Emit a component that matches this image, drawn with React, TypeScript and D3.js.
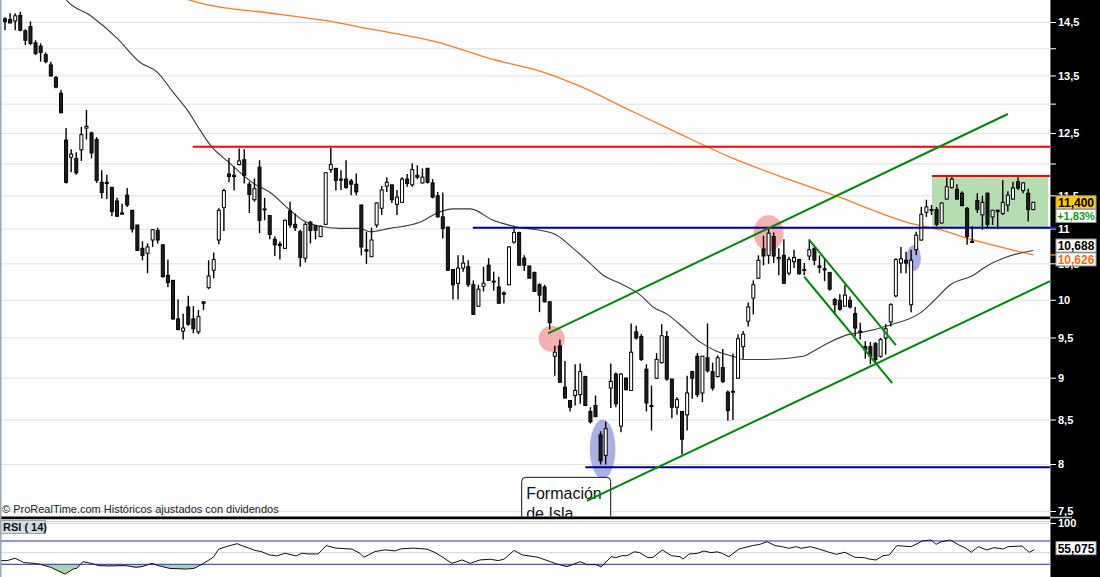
import React from 'react';
import * as d3 from 'd3';

// Daily sessions: [open, high, low, close]
const ohlc: [number, number, number, number][] = [
  [14.57, 14.60, 14.35, 14.52], [14.56, 14.68, 14.49, 14.49], [14.53, 14.68, 14.35, 14.63], [14.64, 14.71, 14.33, 14.35],
  [14.34, 14.37, 14.07, 14.16], [14.42, 14.52, 14.07, 14.10], [14.11, 14.16, 13.88, 13.91], [14.05, 14.10, 13.76, 13.93],
  [13.89, 13.93, 13.73, 13.76], [13.70, 13.76, 13.49, 13.50], [13.47, 13.50, 13.28, 13.30], [13.19, 13.25, 12.85, 12.85],
  [12.39, 12.59, 11.69, 11.71], [12.11, 12.24, 11.87, 12.16], [12.09, 12.19, 11.83, 11.86], [12.23, 12.61, 12.05, 12.48],
  [12.59, 12.90, 12.40, 12.62], [12.51, 12.53, 12.09, 12.18], [12.40, 12.44, 11.70, 11.74], [11.71, 11.90, 11.46, 11.55],
  [11.71, 11.83, 11.45, 11.69], [11.63, 11.64, 11.19, 11.26], [11.42, 11.47, 11.18, 11.19], [11.24, 11.38, 11.22, 11.22],
  [11.51, 11.62, 11.33, 11.36], [11.28, 11.28, 10.95, 11.00], [11.06, 11.06, 10.68, 10.69], [10.72, 10.82, 10.55, 10.62],
  [10.65, 10.79, 10.37, 10.74], [10.84, 11.00, 10.74, 10.99], [10.98, 11.02, 10.79, 10.84], [10.77, 10.78, 10.31, 10.32],
  [10.34, 10.56, 10.18, 10.24], [10.27, 10.27, 9.74, 9.75], [9.75, 10.01, 9.60, 9.61], [9.59, 9.82, 9.48, 9.63],
  [9.91, 10.06, 9.66, 9.68], [9.75, 9.92, 9.56, 9.62], [9.58, 9.87, 9.55, 9.78], [9.98, 9.98, 9.87, 9.96],
  [10.17, 10.55, 10.15, 10.33], [10.41, 10.66, 10.30, 10.56], [10.84, 11.31, 10.78, 11.28], [11.32, 11.61, 10.97, 11.58],
  [11.84, 12.10, 11.71, 11.80], [11.82, 11.96, 11.58, 11.80], [11.99, 12.25, 11.98, 12.05], [12.07, 12.24, 11.69, 11.82],
  [11.68, 11.72, 11.24, 11.52], [11.44, 11.77, 11.41, 11.61], [11.95, 12.06, 10.94, 11.13], [11.30, 11.47, 11.13, 11.29],
  [11.20, 11.21, 10.85, 10.92], [10.85, 10.89, 10.61, 10.77], [10.78, 10.82, 10.56, 10.76], [10.72, 11.14, 10.71, 11.13],
  [11.27, 11.41, 11.02, 11.06], [11.07, 11.23, 10.97, 11.02], [10.96, 10.99, 10.46, 10.59], [10.58, 11.10, 10.52, 11.07],
  [11.10, 11.12, 10.79, 10.98], [11.05, 11.06, 10.85, 10.98], [10.89, 11.05, 10.88, 11.04], [11.07, 11.87, 11.06, 11.86],
  [11.91, 12.26, 11.86, 11.99], [11.93, 11.93, 11.58, 11.74], [11.76, 11.90, 11.59, 11.75], [11.76, 12.06, 11.61, 11.63],
  [11.73, 11.76, 11.51, 11.68], [11.68, 11.85, 11.51, 11.56], [11.36, 11.36, 10.62, 10.74], [10.70, 10.96, 10.50, 10.68],
  [10.60, 11.02, 10.60, 10.84], [11.06, 11.40, 11.02, 11.39], [11.31, 11.65, 11.21, 11.59], [11.65, 11.79, 11.56, 11.71],
  [11.67, 11.67, 11.39, 11.44], [11.37, 11.59, 11.21, 11.48], [11.40, 11.79, 11.39, 11.76], [11.76, 11.84, 11.64, 11.69],
  [11.67, 12.01, 11.64, 11.91], [11.82, 11.98, 11.76, 11.79], [11.70, 11.93, 11.69, 11.79], [11.93, 11.94, 11.69, 11.71],
  [11.70, 11.76, 11.46, 11.48], [11.50, 11.56, 11.17, 11.18], [11.18, 11.55, 10.86, 11.01], [11.03, 11.03, 10.40, 10.41],
  [10.42, 10.42, 10.01, 10.21], [10.23, 10.62, 10.01, 10.44], [10.44, 10.62, 10.39, 10.51], [10.46, 10.55, 10.18, 10.21],
  [10.21, 10.27, 9.81, 9.81], [9.92, 10.21, 9.91, 10.15], [10.19, 10.46, 10.12, 10.23], [10.48, 10.58, 10.27, 10.27],
  [10.26, 10.39, 10.13, 10.25], [10.18, 10.32, 9.96, 9.96], [10.10, 10.12, 9.96, 10.08], [10.21, 10.75, 10.21, 10.74],
  [10.81, 11.00, 10.79, 10.95], [10.95, 10.96, 10.48, 10.48], [10.58, 10.62, 10.40, 10.48], [10.47, 10.47, 10.30, 10.30],
  [10.38, 10.39, 10.12, 10.12], [10.21, 10.23, 9.84, 10.07], [10.18, 10.21, 9.97, 9.98], [9.98, 9.98, 9.61, 9.70],
  [9.27, 9.40, 9.03, 9.32], [9.40, 9.48, 8.95, 8.95], [8.89, 9.21, 8.75, 8.76], [8.73, 8.73, 8.60, 8.65],
  [8.79, 9.17, 8.67, 8.85], [8.80, 9.18, 8.69, 9.08], [9.02, 9.03, 8.67, 8.67], [8.60, 8.65, 8.46, 8.48],
  [8.67, 8.79, 8.53, 8.54], [8.33, 8.37, 8.00, 8.04], [8.10, 8.48, 8.00, 8.40], [8.88, 9.18, 8.64, 8.96],
  [9.05, 9.07, 8.65, 8.69], [8.43, 9.06, 8.36, 9.05], [9.00, 9.01, 8.85, 8.86], [8.85, 9.69, 8.85, 9.32],
  [9.58, 9.66, 9.48, 9.50], [9.52, 9.55, 9.21, 9.23], [9.11, 9.17, 8.60, 8.70], [8.67, 8.91, 8.38, 8.66],
  [9.00, 9.31, 8.99, 9.23], [9.19, 9.68, 9.18, 9.53], [9.52, 9.59, 8.97, 8.99], [8.99, 8.99, 8.52, 8.65],
  [8.65, 8.77, 8.56, 8.74], [8.60, 8.60, 8.11, 8.28], [8.56, 9.03, 8.38, 8.82], [9.08, 9.09, 8.75, 9.00],
  [9.27, 9.31, 8.77, 8.80], [8.82, 9.27, 8.71, 9.27], [9.25, 9.69, 9.07, 9.09], [9.08, 9.19, 8.85, 8.88],
  [9.02, 9.28, 9.01, 9.25], [9.13, 9.36, 8.94, 8.96], [8.83, 8.85, 8.49, 8.61], [8.84, 9.30, 8.50, 8.83],
  [9.00, 9.55, 8.99, 9.49], [9.39, 9.59, 9.24, 9.55], [9.72, 9.97, 9.65, 9.91], [10.03, 10.27, 9.81, 10.21],
  [10.30, 10.62, 10.29, 10.55], [10.71, 10.90, 10.48, 10.61], [10.62, 11.00, 10.50, 10.94], [10.89, 10.95, 10.51, 10.61],
  [10.57, 10.72, 10.34, 10.59], [10.62, 10.85, 10.23, 10.23], [10.37, 10.60, 10.34, 10.56], [10.53, 10.70, 10.44, 10.59],
  [10.56, 10.57, 10.35, 10.36], [10.42, 10.51, 10.34, 10.42], [10.61, 10.84, 10.55, 10.70], [10.72, 10.74, 10.48, 10.55],
  [10.47, 10.62, 10.37, 10.45], [10.43, 10.58, 10.26, 10.42], [10.38, 10.38, 10.13, 10.15], [10.01, 10.03, 9.81, 9.94],
  [10.00, 10.08, 9.86, 9.88], [9.92, 10.21, 9.92, 10.07], [10.00, 10.05, 9.89, 9.91], [9.82, 9.91, 9.52, 9.63],
  [9.59, 9.70, 9.48, 9.59], [9.39, 9.46, 9.24, 9.35], [9.39, 9.45, 9.17, 9.27], [9.43, 9.45, 9.17, 9.23],
  [9.27, 9.50, 9.25, 9.48], [9.50, 9.68, 9.29, 9.62], [9.71, 9.96, 9.65, 9.94], [10.06, 10.58, 10.04, 10.56],
  [10.51, 10.74, 10.37, 10.57], [10.55, 10.67, 10.37, 10.51], [9.94, 10.70, 9.84, 10.55], [10.70, 10.96, 10.62, 10.91],
  [10.84, 11.33, 10.83, 11.22], [11.25, 11.44, 11.18, 11.33], [11.28, 11.36, 11.21, 11.29], [11.29, 11.33, 11.04, 11.07],
  [11.09, 11.40, 11.08, 11.39], [11.45, 11.79, 11.44, 11.64], [11.63, 11.79, 11.61, 11.76], [11.60, 11.68, 11.44, 11.45],
  [11.54, 11.57, 11.34, 11.35], [11.31, 11.33, 10.77, 10.89], [10.82, 11.04, 10.80, 10.81], [11.43, 11.54, 11.24, 11.29],
  [11.21, 11.50, 10.99, 11.40], [11.54, 11.55, 11.03, 11.07], [11.18, 11.28, 11.06, 11.28], [11.28, 11.29, 11.00, 11.26],
  [11.23, 11.74, 11.21, 11.40], [11.36, 11.57, 11.26, 11.51], [11.45, 11.72, 11.44, 11.62], [11.72, 11.79, 11.59, 11.62],
  [11.58, 11.71, 11.54, 11.70], [11.54, 11.61, 11.11, 11.29], [11.29, 11.41, 11.28, 11.40],
];

// Moving averages as [session index, price]
const maFast: [number, number][] = [
  [11, 15.1], [12, 14.95], [16.7, 14.64], [22, 14.2], [26.5, 13.75], [29.9, 13.57], [33, 13.21], [35.8, 12.9],
  [38.3, 12.56], [40.3, 12.31], [44.2, 12.01], [48.7, 11.7], [52.1, 11.55], [56, 11.28], [58.5, 11.13],
  [61.9, 11.04], [65.8, 11.01], [69.7, 11.01], [71.7, 10.96], [75.6, 11.01], [79.6, 11.06], [81.5, 11.1],
  [84.9, 11.24], [88, 11.3], [91.4, 11.3], [95.9, 11.13], [100.6, 11.03], [104.5, 10.99], [108.4, 10.91],
  [111.6, 10.72], [114.9, 10.51], [117.5, 10.34], [120.8, 10.23], [124.8, 10.07], [127.3, 9.91], [130.1, 9.81],
  [133.2, 9.64], [136.5, 9.45], [139.9, 9.33], [143, 9.27], [145, 9.23], [149.7, 9.23], [156.8, 9.27],
  [158.7, 9.33], [162.1, 9.45], [166, 9.55], [168, 9.57], [173.9, 9.67], [179.8, 9.83], [182.3, 9.98],
  [185.7, 10.21], [190.2, 10.34], [192.9, 10.47], [196.9, 10.6], [202, 10.688],
];
const maSlow: [number, number][] = [
  [35, 15.0], [36.3, 14.94], [54, 14.66], [62.1, 14.55], [71.9, 14.37], [84.7, 14.13], [95.9, 13.8],
  [105.7, 13.57], [112.8, 13.32], [122.6, 12.9], [131.6, 12.53], [142.2, 12.12], [153.4, 11.77],
  [164.6, 11.46], [170.5, 11.28], [177.2, 11.1], [183.7, 10.99], [190.2, 10.84], [198.8, 10.68], [202, 10.626],
];

// RSI(14) as [session index, value]
const rsiPoints: [number, number][] = [
  [-1, 36.4], [0.4, 36.4], [2, 40.4], [3.7, 32.9], [5.7, 31.7], [6.9, 30], [9, 24.8], [11.8, 13.2], [13.4, 21.9],
  [14.1, 23], [15.3, 34.6], [16.9, 31.7], [18.5, 27.7], [20.4, 27.1], [22.4, 27.7], [23.8, 27.7], [25.7, 24.8],
  [26.9, 26], [28.9, 31.7], [30.1, 27.7], [32.4, 23], [35.6, 21.9], [37.1, 23], [38.7, 30], [40.9, 42], [42, 56],
  [43.6, 60.7], [45.6, 65.4], [46.4, 62.5], [47.9, 57.8], [49.1, 53.8], [50.3, 52], [51.9, 46.2], [53.4, 44.4],
  [55, 49], [57.2, 44.4], [58.3, 49], [59.5, 47.8], [61.5, 47.8], [63.1, 61.9], [65, 57.8], [68.2, 56], [69.7, 49],
  [70.5, 42], [72.7, 51.9], [74.7, 54.8], [76.6, 53], [77.8, 56.6], [80.2, 57.8], [82.9, 56], [84.5, 50.2], [86, 42],
  [87.8, 31.7], [89.8, 37.5], [91.4, 31.7], [93.3, 37.5], [95.3, 38.7], [96.9, 36.4], [98, 38.7], [100, 53.8],
  [101.6, 46.2], [104.7, 42], [107.1, 34.6], [108.4, 30.6], [110.4, 26], [113, 34.6], [114.3, 29.4], [116.1, 29.4],
  [117.1, 25.4], [119.1, 43.1], [120, 41.4], [121.2, 44.8], [122.2, 44.8], [123.6, 51.4], [124.6, 50.3],
  [126.3, 41.4], [127.3, 42], [129.1, 54.6], [130.9, 44.8], [132.6, 43.1], [133.2, 39.1], [134.4, 47.7], [136, 48.8],
  [137.3, 52.8], [138.7, 50], [139.9, 51.4], [140.9, 48.8], [142.2, 43.1], [144.2, 56.3], [146.8, 62], [148.3, 64.3],
  [149.7, 68.8], [151.3, 62], [152.7, 60.3], [154, 57.4], [155.4, 60.3], [156.4, 57.4], [158.2, 60.3], [160.1, 55.7],
  [161.5, 51.7], [163.3, 47.1], [165, 50.6], [167, 42], [168.8, 41.4], [169.7, 39.1], [171.1, 37.4], [172.5, 44.8],
  [173.7, 46], [175.2, 62], [178, 60.3], [180.2, 70], [181.9, 71.7], [182.9, 64.3], [183.9, 68.8], [185.7, 71.7],
  [187.4, 63.1], [188.8, 57.4], [189.8, 50.6], [191.2, 60.3], [192.9, 54.6], [194.3, 58.6], [196.1, 56.3],
  [197, 60.3], [199.8, 61.4], [201.2, 50.6], [202.2, 55.075],
];

// Axis
const priceTicks = [7.5, 8, 8.5, 9, 9.5, 10, 10.5, 11, 11.5, 12, 12.5, 13, 13.5, 14, 14.5];
const priceLabels = [7.5, 8, 8.5, 9, 9.5, 10, 10.5, 11, 11.5, 12.5, 13.5, 14.5];
const rsiLevels = [30, 70];
const rsiGrid = [50, 100];

// Drawn annotations (session index, price)
const resistance = { from: 36.9, level: 12.28 };
const rangeTop = { from: 182.1, level: 11.81 };
const neckline = { from: 91.9, level: 11.02 };
const support = { from: 114, level: 7.97 };
const rangeBox = { from: 182.1, to: 204.9, top: 11.81, bottom: 11.02 };
const channelUpper: [number, number][] = [[106.7, 9.56], [197, 12.83]];
const channelLower: [number, number][] = [[114.3, 7.61], [205.3, 10.26]];
const wedgeUpper: [number, number][] = [[157.9, 10.85], [175, 9.41]];
const wedgeLower: [number, number][] = [[157, 10.32], [174.3, 8.94]];
const pinkMarks: [number, number][] = [[107.4, 9.49], [150, 10.94]];
const blueMarks: [number, number][] = [[117.4, 8.17], [178.5, 10.58]];
const islandNote = { at: 101.5, price: 7.86, lines: ['Formación', 'de Isla'] };

const lastClose = 11.4;
const changePct = 1.83;
const maFastLast = 10.688;
const maSlowLast = 10.626;
const rsiLast = 55.075;

const font = '"Liberation Sans", Arial, sans-serif';
const comma = (v: number, f: string) => d3.format(f)(v).replace('.', ',');

const App: React.FC = () => {
  const width = 1100;
  const height = 577;
  const plotRight = 1050;
  const mainBottom = 516.5;

  const x = d3.scaleLinear().domain([0, ohlc.length - 1]).range([5, 1033.3]);
  const y = d3
    .scaleLog()
    .domain([7.5, 8, 8.5, 9, 9.5, 10, 14.5])
    .range([511.5, 464.5, 420, 378.2, 338, 300.3, 22.5]);
  const yRsi = d3.scaleLinear().domain([0, 100]).range([581.8, 523.5]);

  const maLine = d3
    .line<[number, number]>()
    .x(d => x(d[0]))
    .y(d => y(d[1]))
    .curve(d3.curveMonotoneX);
  const segment = d3
    .line<[number, number]>()
    .x(d => x(d[0]))
    .y(d => y(d[1]));
  const rsiLine = d3
    .line<[number, number]>()
    .x(d => x(d[0]))
    .y(d => yRsi(d[1]));
  const rsiArea = d3
    .area<[number, number]>()
    .x(d => x(d[0]))
    .y0(yRsi(30))
    .y1(d => yRsi(d[1]));

  const bodyW = 3;

  const labelFmt = (v: number) => (Number.isInteger(v) ? String(v) : comma(v, '.1f'));

  return (
    <svg
      width={width}
      height={height}
      style={{ position: 'absolute', left: 0, top: 0, display: 'block' }}
      fontFamily={font}
    >
      <defs>
        <clipPath id="mainClip">
          <rect x={0} y={0} width={plotRight} height={mainBottom} />
        </clipPath>
        <clipPath id="rsiClip">
          <rect x={0} y={520} width={plotRight} height={height - 520} />
        </clipPath>
        <clipPath id="rsiLow">
          <rect x={0} y={yRsi(30)} width={plotRight} height={height - yRsi(30)} />
        </clipPath>
      </defs>

      <rect x={0} y={0} width={width} height={height} fill="#fdfdfd" />

      {/* price panel */}
      <g clipPath="url(#mainClip)">
        {priceTicks.map(t => (
          <line key={t} x1={0} x2={plotRight} y1={y(t)} y2={y(t)} stroke="#e2e2e2" strokeWidth={1} />
        ))}

        <rect
          x={x(rangeBox.from)}
          y={y(rangeBox.top)}
          width={x(rangeBox.to) - x(rangeBox.from)}
          height={y(rangeBox.bottom) - y(rangeBox.top)}
          fill="#b6dcb2"
        />
        {pinkMarks.map((d, i) => (
          <ellipse key={i} cx={x(d[0])} cy={y(d[1])} rx={i === 0 ? 13 : 15} ry={i === 0 ? 13 : 18} fill="#f7b0b0" />
        ))}
        {blueMarks.map((d, i) => (
          <ellipse key={i} cx={x(d[0])} cy={y(d[1])} rx={i === 0 ? 12.8 : 7.2} ry={i === 0 ? 29.5 : 12.8} fill="#aab0e2" />
        ))}

        <path d={maLine(maSlow) ?? ''} fill="none" stroke="#ff7a22" strokeWidth={1.3} />
        <path d={maLine(maFast) ?? ''} fill="none" stroke="#3a3a3a" strokeWidth={1.1} />

        {ohlc.map(([o, h, l, c], i) => {
          const cx = x(i);
          const top = y(Math.max(o, c));
          const bot = y(Math.min(o, c));
          const up = c >= o;
          return (
            <g key={i}>
              <line x1={cx} x2={cx} y1={y(h)} y2={y(l)} stroke="#000" strokeWidth={1.4} />
              <rect
                x={cx - bodyW / 2}
                y={top}
                width={bodyW}
                height={Math.max(1, bot - top)}
                fill={up ? '#ffffff' : '#1e1e1e'}
                stroke="#000"
                strokeWidth={1}
              />
            </g>
          );
        })}

        <g>
          <rect
            x={x(islandNote.at)}
            y={y(islandNote.price)}
            width={89}
            height={60}
            rx={4}
            fill="#ffffff"
            stroke="#111"
            strokeWidth={1}
          />
          {islandNote.lines.map((t, i) => (
            <text
              key={t}
              x={x(islandNote.at) + 4.5}
              y={y(islandNote.price) + 22 + i * 20}
              fontSize={16}
              fill="#111"
            >
              {t}
            </text>
          ))}
        </g>

        <line x1={x(resistance.from)} x2={plotRight} y1={y(resistance.level)} y2={y(resistance.level)} stroke="#ff0000" strokeWidth={2} />
        <line x1={x(rangeTop.from)} x2={plotRight} y1={y(rangeTop.level)} y2={y(rangeTop.level)} stroke="#ff0000" strokeWidth={2} />
        <line x1={x(neckline.from)} x2={plotRight} y1={y(neckline.level)} y2={y(neckline.level)} stroke="#00008f" strokeWidth={2} />
        <line x1={x(support.from)} x2={plotRight} y1={y(support.level)} y2={y(support.level)} stroke="#00008f" strokeWidth={2} />

        {[channelUpper, channelLower, wedgeUpper, wedgeLower].map((seg, i) => (
          <path key={i} d={segment(seg) ?? ''} fill="none" stroke="#00890b" strokeWidth={2} />
        ))}

        <text x={2} y={513} fontSize={11} fill="#222">
          © ProRealTime.com  Históricos ajustados con dividendos
        </text>
      </g>

      {/* separator between panels */}
      <rect x={0} y={mainBottom} width={plotRight} height={3} fill="#000" />
      <rect x={0} y={519.5} width={plotRight} height={height - 519.5} fill="#ffffff" />
      <line x1={0} x2={plotRight} y1={521.5} y2={521.5} stroke="#c8c8c8" />

      {/* RSI panel */}
      <g clipPath="url(#rsiClip)">
        {rsiGrid.map(v => (
          <line key={v} x1={0} x2={plotRight} y1={yRsi(v)} y2={yRsi(v)} stroke="#d8d8d8" />
        ))}
        <path d={rsiArea(rsiPoints) ?? ''} fill="#a9d6a6" clipPath="url(#rsiLow)" />
        {rsiLevels.map(v => (
          <line key={v} x1={0} x2={plotRight} y1={yRsi(v)} y2={yRsi(v)} stroke="#2626d6" strokeWidth={1} />
        ))}
        <path d={rsiLine(rsiPoints) ?? ''} fill="none" stroke="#111" strokeWidth={1} />
      </g>
      <rect x={0.5} y={520.5} width={45} height={13} fill="#d3dbe3" stroke="#9aa6b2" />
      <text x={3} y={531} fontSize={11} fontWeight="bold" fill="#111">
        RSI ( 14)
      </text>

      {/* left border */}
      <line x1={0.75} x2={0.75} y1={0} y2={height} stroke="#9aa8b6" strokeWidth={1.5} />

      {/* right axis */}
      <rect x={plotRight} y={0} width={width - plotRight} height={height} fill="#000" />
      <line x1={plotRight + 0.5} x2={plotRight + 0.5} y1={0} y2={height} stroke="#6a7580" />
      <line x1={plotRight} x2={plotRight + 22} y1={517.5} y2={517.5} stroke="#bfc6cc" strokeWidth={1.5} />
      {priceTicks.map(t => (
        <line key={t} x1={plotRight} x2={plotRight + 6} y1={y(t)} y2={y(t)} stroke="#fff" strokeWidth={1} />
      ))}
      {priceLabels.map(t => (
        <text key={t} x={plotRight + 8} y={y(t)} dy="0.35em" fontSize={11} fontWeight="bold" fill="#fff">
          {labelFmt(t)}
        </text>
      ))}
      {[100, 0].map(v => (
        <g key={v}>
          <line x1={plotRight} x2={plotRight + 6} y1={yRsi(v)} y2={yRsi(v)} stroke="#fff" />
          <text x={plotRight + 8} y={yRsi(v)} dy="0.35em" fontSize={11} fontWeight="bold" fill="#fff">
            {v}
          </text>
        </g>
      ))}
      <line x1={plotRight} x2={plotRight + 6} y1={y(neckline.level)} y2={y(neckline.level)} stroke="#2020c0" strokeWidth={2} />
      <line x1={plotRight} x2={plotRight + 6} y1={y(maSlowLast)} y2={y(maSlowLast)} stroke="#ff7a22" strokeWidth={1.5} />

      {/* last value tags */}
      {[
        { v: comma(lastClose, '.3f'), cy: y(lastClose), bg: '#ffcc00', fg: '#000', fs: 12 },
        { v: '+' + comma(changePct, '.2f') + '%', cy: y(lastClose) + 13.5, bg: '#ffffff', fg: '#109a10', fs: 11 },
        { v: comma(maFastLast, '.3f'), cy: y(maFastLast) - 5, bg: '#ffffff', fg: '#000', fs: 12 },
        { v: comma(maSlowLast, '.3f'), cy: y(maSlowLast) + 4.5, bg: '#ffffff', fg: '#ff6a10', fs: 12 },
        { v: comma(rsiLast, '.3f'), cy: yRsi(rsiLast) - 1.5, bg: '#ffffff', fg: '#000', fs: 12 },
      ].map((b, i) => (
        <g key={i}>
          <rect x={1056} y={b.cy - 6.5} width={40} height={13} fill={b.bg} stroke="#9aa3ad" strokeWidth={1} />
          <text x={1076} y={b.cy} dy="0.36em" textAnchor="middle" fontSize={b.fs} fontWeight="bold" fill={b.fg}>
            {b.v}
          </text>
        </g>
      ))}
    </svg>
  );
};

export default App;
